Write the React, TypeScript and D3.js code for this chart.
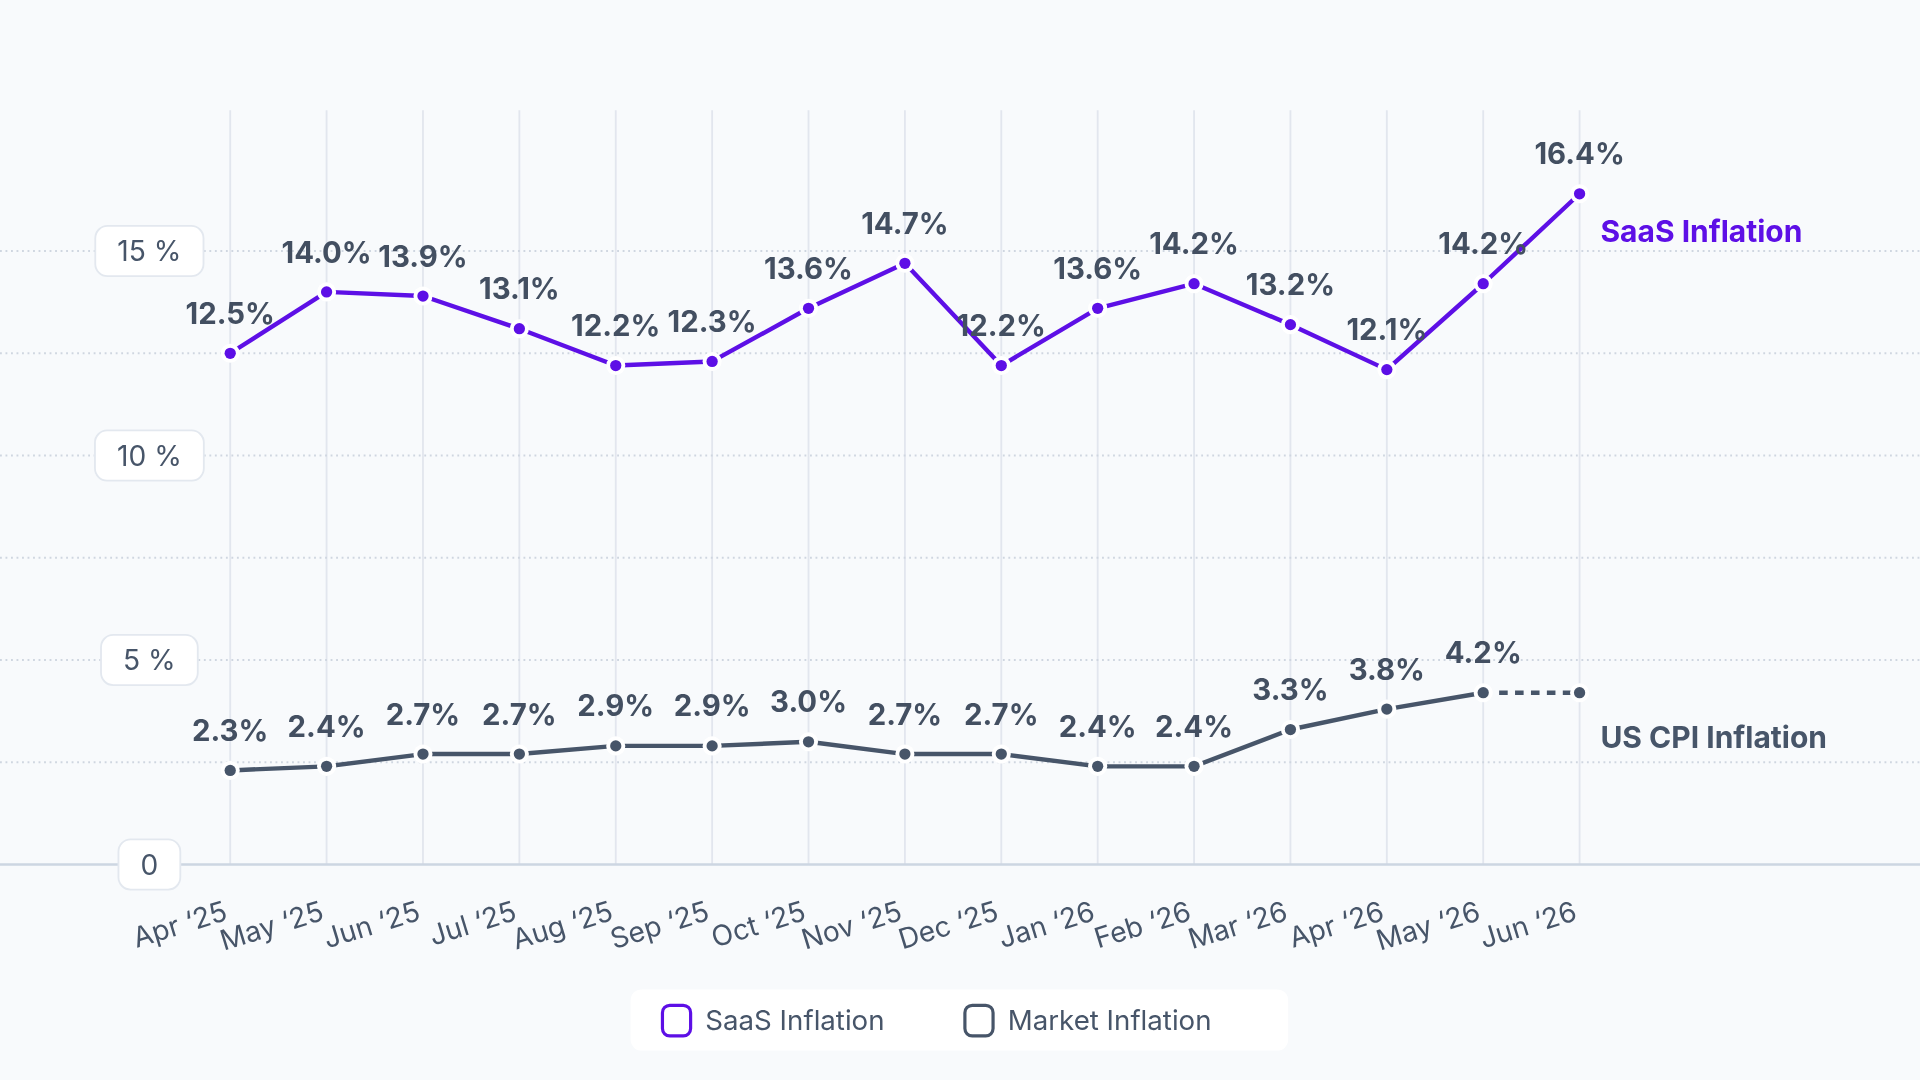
import React from "react";
import * as d3 from "d3";

const categories = ["Apr ‘25","May ‘25","Jun ‘25","Jul ‘25","Aug ‘25","Sep ‘25","Oct ‘25","Nov ‘25","Dec ‘25","Jan ‘26","Feb ‘26","Mar ‘26","Apr ‘26","May ‘26","Jun ‘26"];
const saasValues = [12.5,14.0,13.9,13.1,12.2,12.3,13.6,14.7,12.2,13.6,14.2,13.2,12.1,14.2,16.4];
const cpiValues = [2.3,2.4,2.7,2.7,2.9,2.9,3.0,2.7,2.7,2.4,2.4,3.3,3.8,4.2,4.2];
const cpiProjectedFrom = 13; // last segment (index 13 -> 14) is a projection
const gridValues = [2.5,5,7.5,10,12.5,15];
const yTickValues = [0,5,10,15];
const yTickLabels = ["0","5 %","10 %","15 %"];
const legendItems = ["SaaS Inflation","Market Inflation"];

const W = 1568, H = 882;
const PURPLE = "#5d0fe6";
const SLATE = "#475569";
const LABEL = "#434f61";
const FONT = "Inter, 'Noto Sans', sans-serif";

function measure(text: string, font: string) {
  const c = document.createElement("canvas").getContext("2d");
  if (!c) return text.length * 11;
  c.font = font;
  return c.measureText(text).width;
}

export default function App() {
  const x = d3.scalePoint<string>().domain(categories).range([188, 1290]);
  const y = d3.scaleLinear().domain([0, 15]).range([706, 205]);
  const line = d3.line<number>().x((_, i) => x(categories[i]) as number).y((d) => y(d));

  const cpiSolid = cpiValues.slice(0, cpiProjectedFrom + 1);
  const cpiDashPts: [number, number][] = cpiValues.slice(cpiProjectedFrom).map((v, i) => [x(categories[cpiProjectedFrom + i]) as number, y(v)]);
  const dashLine = d3.line();

  const dot = (cx: number, cy: number, color: string, key: string) => (
    <g key={key}>
      <circle cx={cx} cy={cy} r={7.8} fill="#ffffff" />
      <circle cx={cx} cy={cy} r={4.6} fill={color} />
    </g>
  );

  return (
    <div style={{ position: "fixed", left: 0, top: 0, width: 1920, height: 1080 }}>
      <svg width={1920} height={1080} viewBox={`0 0 ${W} ${H}`} style={{ display: "block", fontFamily: FONT }}>
        <rect x={0} y={0} width={W} height={H} fill="#f8fafc" />
        {/* vertical grid */}
        {categories.map((c) => (
          <line key={"v" + c} x1={x(c)} x2={x(c)} y1={90} y2={706} stroke="#e2e6ee" strokeWidth={1.5} />
        ))}
        {/* horizontal dotted grid */}
        {gridValues.map((v) => (
          <line key={"h" + v} x1={0} x2={W} y1={y(v)} y2={y(v)} stroke="#cfd6e0" strokeWidth={1.5} strokeDasharray="1.5 3" />
        ))}
        {/* zero axis */}
        <line x1={0} x2={W} y1={y(0)} y2={y(0)} stroke="#cdd6e2" strokeWidth={2.2} />

        {/* y tick pills */}
        {yTickValues.map((v, i) => {
          const t = yTickLabels[i];
          const w = measure(t, `400 23px Inter`) + 36;
          return (
            <g key={"yt" + v} transform={`translate(122,${y(v)})`}>
              <rect x={-w / 2} y={-20.5} width={w} height={41} rx={10} fill="#ffffff" stroke="#e3e8ef" strokeWidth={1.5} />
              <text textAnchor="middle" dy="0.36em" fontSize={23} fill={SLATE}>{t}</text>
            </g>
          );
        })}

        {/* x tick labels */}
        {categories.map((c) => (
          <text key={"xl" + c} transform={`translate(${(x(c) as number) - 1},751) rotate(-17)`} textAnchor="end" fontSize={23} fill={SLATE}>{c}</text>
        ))}

        {/* SaaS line */}
        <path d={line(saasValues) || ""} fill="none" stroke={PURPLE} strokeWidth={3.6} strokeLinejoin="round" />
        {/* CPI line */}
        <path d={line(cpiSolid) || ""} fill="none" stroke={SLATE} strokeWidth={3.6} strokeLinejoin="round" />
        <path d={dashLine(cpiDashPts) || ""} fill="none" stroke={SLATE} strokeWidth={3.8} strokeDasharray="7 6" />

        {saasValues.map((v, i) => dot(x(categories[i]) as number, y(v), PURPLE, "sd" + i))}
        {cpiValues.map((v, i) => dot(x(categories[i]) as number, y(v), SLATE, "cd" + i))}

        {/* value labels */}
        {saasValues.map((v, i) => (
          <text key={"sl" + i} x={x(categories[i])} y={y(v) - 24} textAnchor="middle" fontSize={24} fontWeight={700} fill={LABEL}>{v.toFixed(1) + "%"}</text>
        ))}
        {cpiValues.slice(0, cpiProjectedFrom + 1).map((v, i) => (
          <text key={"cl" + i} x={x(categories[i])} y={y(v) - 24} textAnchor="middle" fontSize={24} fontWeight={700} fill={LABEL}>{v.toFixed(1) + "%"}</text>
        ))}

        {/* series end labels */}
        <text x={1307} y={198} fontSize={24.5} fontWeight={700} fill={PURPLE}>SaaS Inflation</text>
        <text x={1307} y={611} fontSize={24.5} fontWeight={700} fill={SLATE}>US CPI Inflation</text>

        {/* legend */}
        <g>
          <rect x={515} y={808} width={537} height={50} rx={9} fill="#ffffff" />
          <rect x={541} y={821} width={23} height={25} rx={6} fill="none" stroke={PURPLE} strokeWidth={2.6} />
          <text x={576} y={841} fontSize={22.6} fill={SLATE}>{legendItems[0]}</text>
          <rect x={788} y={821} width={23} height={25} rx={6} fill="none" stroke={SLATE} strokeWidth={2.6} />
          <text x={823} y={841} fontSize={22.6} fill={SLATE}>{legendItems[1]}</text>
        </g>
      </svg>
    </div>
  );
}
